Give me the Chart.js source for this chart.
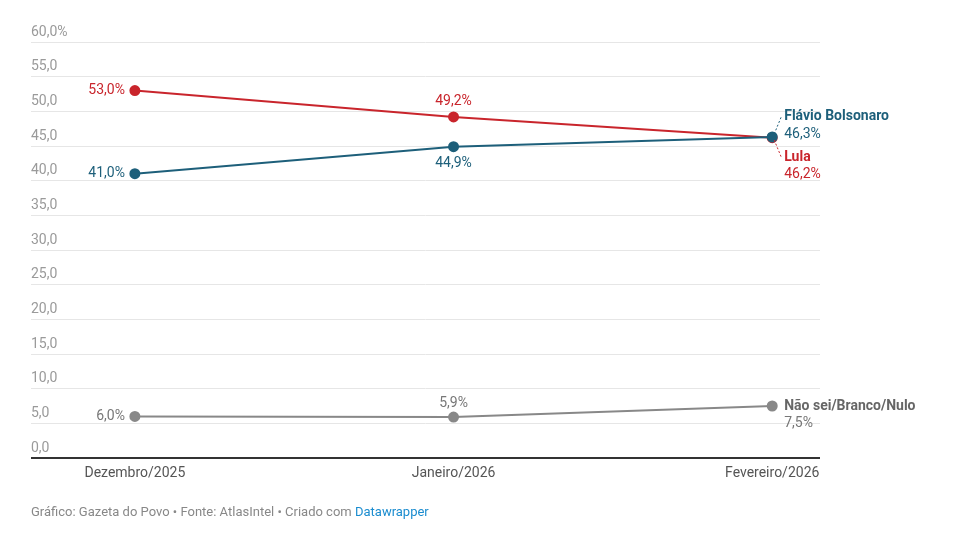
<!DOCTYPE html>
<html>
<head>
<meta charset="utf-8">
<script src="https://cdn.jsdelivr.net/npm/chart.js@4/dist/chart.umd.min.js"></script>
<style>
  body { margin: 0; background: #fff; }
  #wrap { width: 960px; height: 540px; }
</style>
</head>
<body>
<div id="wrap"><canvas id="c"></canvas></div>
<script>
const categories = ["Dezembro/2025", "Janeiro/2026", "Fevereiro/2026"];
const flavio = [41.0, 44.9, 46.3];
const lula = [53.0, 49.2, 46.2];
const nulo = [6.0, 5.9, 7.5];
const yTicks = [0, 5, 10, 15, 20, 25, 30, 35, 40, 45, 50, 55, 60];

const BLUE = "#1d5f7a", RED = "#c9252c", GRAY = "#888888";
const FONT = "Roboto, 'Noto Sans', sans-serif";
const fmt = v => v.toFixed(1).replace(".", ",");

function series(label, data, color) {
  return {
    label,
    data: data.map((v, i) => ({ x: i, y: v })),
    borderColor: color,
    backgroundColor: color,
    borderWidth: 2,
    pointRadius: 4.5,
    pointHoverRadius: 4.5
  };
}

const decor = {
  id: "decor",
  afterDraw(chart) {
    const ctx = chart.ctx, xs = chart.scales.x, ys = chart.scales.y, area = chart.chartArea;
    ctx.save();
    // baseline
    ctx.strokeStyle = "#333";
    ctx.lineWidth = 2;
    ctx.beginPath();
    ctx.moveTo(area.left, ys.getPixelForValue(0));
    ctx.lineTo(area.right, ys.getPixelForValue(0));
    ctx.stroke();
    // y tick labels above gridlines
    ctx.font = "14px " + FONT;
    ctx.fillStyle = "#9a9a9a";
    ctx.textAlign = "left";
    ctx.textBaseline = "bottom";
    yTicks.forEach(t => {
      ctx.fillText(t === 60 ? fmt(t) + "%" : fmt(t), area.left, ys.getPixelForValue(t) - 3);
    });
    // x labels
    ctx.fillStyle = "#555";
    ctx.textAlign = "center";
    ctx.textBaseline = "top";
    categories.forEach((c, i) => ctx.fillText(c, xs.getPixelForValue(i), ys.getPixelForValue(0) + 8));
    // point labels
    const lab = (txt, color, i, v, dx, dy, align) => {
      ctx.fillStyle = color;
      ctx.textAlign = align;
      ctx.textBaseline = "middle";
      ctx.fillText(txt, xs.getPixelForValue(i) + dx, ys.getPixelForValue(v) + dy);
    };
    lab(fmt(lula[0]) + "%", RED, 0, lula[0], -10, 0, "right");
    lab(fmt(lula[1]) + "%", RED, 1, lula[1], 0, -15, "center");
    lab(fmt(flavio[0]) + "%", BLUE, 0, flavio[0], -10, 0, "right");
    lab(fmt(flavio[1]) + "%", BLUE, 1, flavio[1], 0, 17, "center");
    lab(fmt(nulo[0]) + "%", "#777", 0, nulo[0], -10, 0, "right");
    lab(fmt(nulo[1]) + "%", "#777", 1, nulo[1], 0, -14, "center");
    // end labels
    const ex = xs.getPixelForValue(2);
    ctx.textAlign = "left";
    ctx.font = "bold 14px " + FONT;
    ctx.fillStyle = BLUE;
    ctx.fillText("Flávio Bolsonaro", ex + 12, ys.getPixelForValue(flavio[2]) - 20);
    ctx.fillStyle = RED;
    ctx.fillText("Lula", ex + 12, ys.getPixelForValue(lula[2]) + 20);
    ctx.fillStyle = "#666";
    ctx.fillText("Não sei/Branco/Nulo", ex + 12, ys.getPixelForValue(nulo[2]));
    ctx.font = "14px " + FONT;
    ctx.fillStyle = BLUE;
    ctx.fillText(fmt(flavio[2]) + "%", ex + 12, ys.getPixelForValue(flavio[2]) - 2);
    ctx.fillStyle = RED;
    ctx.fillText(fmt(lula[2]) + "%", ex + 12, ys.getPixelForValue(lula[2]) + 37);
    ctx.fillStyle = "#777";
    ctx.fillText(fmt(nulo[2]) + "%", ex + 12, ys.getPixelForValue(nulo[2]) + 17);
    // dotted connectors
    ctx.setLineDash([2, 2]);
    ctx.lineWidth = 1;
    const ey = ys.getPixelForValue(flavio[2]);
    ctx.strokeStyle = BLUE;
    ctx.beginPath(); ctx.moveTo(ex + 2, ey - 3); ctx.lineTo(ex + 9, ey - 20); ctx.stroke();
    ctx.strokeStyle = RED;
    ctx.beginPath(); ctx.moveTo(ex + 2, ey + 3); ctx.lineTo(ex + 9, ey + 20); ctx.stroke();
    ctx.setLineDash([]);
    // footer
    ctx.font = "13px " + FONT;
    ctx.textAlign = "left";
    ctx.textBaseline = "middle";
    const f = "Gráfico: Gazeta do Povo • Fonte: AtlasIntel • Criado com ";
    ctx.fillStyle = "#888";
    ctx.fillText(f, 31, 513);
    ctx.fillStyle = "#1a8ccf";
    ctx.fillText("Datawrapper", 31 + ctx.measureText(f).width, 513);
    ctx.restore();
  }
};

new Chart(document.getElementById("c"), {
  type: "line",
  data: {
    datasets: [
      series("Não sei/Branco/Nulo", nulo, GRAY),
      series("Flávio Bolsonaro", flavio, BLUE),
      series("Lula", lula, RED)
    ]
  },
  options: {
    responsive: true,
    maintainAspectRatio: false,
    animation: false,
    layout: { padding: { left: 31, right: 140, top: 42, bottom: 82 } },
    scales: {
      x: { type: "linear", min: -0.326, max: 2.15, display: false },
      y: {
        min: 0, max: 60,
        afterBuildTicks: s => { s.ticks = yTicks.map(v => ({ value: v })); },
        ticks: { display: false },
        grid: { color: "#e6e6e6", drawTicks: false },
        border: { display: false }
      }
    },
    plugins: { legend: { display: false }, tooltip: { enabled: false } }
  },
  plugins: [decor]
});
</script>
</body>
</html>
